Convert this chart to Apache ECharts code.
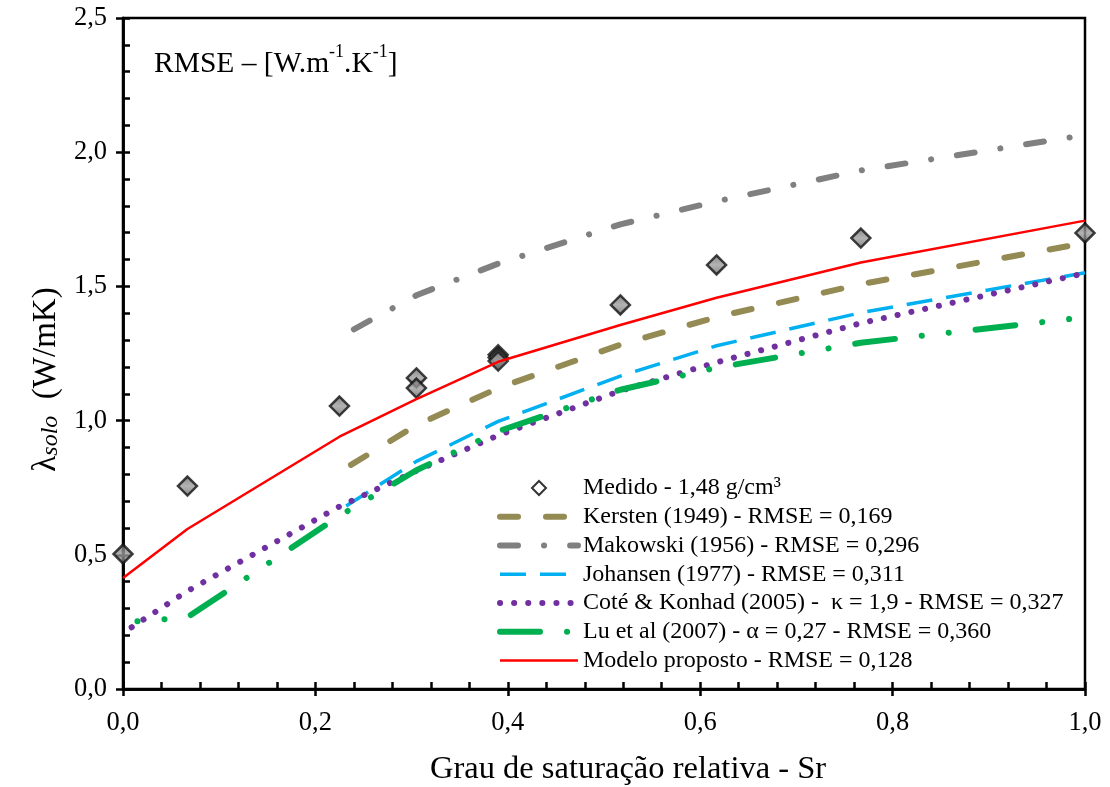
<!DOCTYPE html>
<html>
<head>
<meta charset="utf-8">
<script src="https://cdn.jsdelivr.net/npm/echarts@6/dist/echarts.min.js"></script>
<style>
html,body{margin:0;padding:0;background:#fff;}
#chart{width:1110px;height:787px;}
</style>
</head>
<body>
<div id="chart"></div>
<script>
// ---- data ----
const xTicks = [0, 0.2, 0.4, 0.6, 0.8, 1.0];
const yTicks = [0, 0.5, 1.0, 1.5, 2.0, 2.5];

const medidoX = [0, 0.067, 0.225, 0.305, 0.305, 0.39, 0.39, 0.39, 0.517, 0.617, 0.767, 1.0];
const medidoY = [0.503, 0.756, 1.054, 1.159, 1.121, 1.245, 1.235, 1.222, 1.431, 1.58, 1.68, 1.699];

const kerstenX = [0.237, 0.305, 0.39, 0.517, 0.617, 0.767, 1.0];
const kerstenY = [0.835, 0.983, 1.121, 1.283, 1.386, 1.508, 1.662];

const makowskiX = [0.24, 0.305, 0.39, 0.517, 0.617, 0.767, 1.0];
const makowskiY = [1.34, 1.467, 1.585, 1.731, 1.817, 1.932, 2.064];

const johansenX = [0.232, 0.305, 0.39, 0.517, 0.617, 0.767, 1.0];
const johansenY = [0.682, 0.848, 0.997, 1.166, 1.279, 1.402, 1.551];

const coteX = [0.009, 0.067, 0.225, 0.305, 0.39, 0.517, 0.617, 0.767, 1.0];
const coteY = [0.23, 0.365, 0.68, 0.813, 0.945, 1.111, 1.217, 1.363, 1.549];

const luX = [0.015, 0.067, 0.225, 0.305, 0.39, 0.517, 0.617, 0.767, 1.0];
const luY = [0.252, 0.267, 0.645, 0.815, 0.96, 1.115, 1.197, 1.29, 1.385];

const modeloX = [0, 0.067, 0.225, 0.305, 0.39, 0.517, 0.617, 0.767, 1.0];
const modeloY = [0.414, 0.596, 0.94, 1.08, 1.219, 1.356, 1.458, 1.589, 1.745];

const names = [
  'Medido - 1,48 g/cm³',
  'Kersten (1949) - RMSE = 0,169',
  'Makowski (1956) - RMSE = 0,296',
  'Johansen (1977) - RMSE = 0,311',
  'Coté & Konhad (2005) -  κ = 1,9 - RMSE = 0,327',
  'Lu et al (2007) - α = 0,27 - RMSE = 0,360',
  'Modelo proposto - RMSE = 0,128'
];

// ---- styles ----
const FONT = 'Liberation Serif';
const styles = [
  null,
  {color: '#948A54', width: 6, type: [18, 28], cap: 'round'},
  {color: '#808080', width: 6, type: [18, 26, 0.1, 26], cap: 'round'},
  {color: '#00B0F0', width: 3.5, type: [26, 14], cap: 'butt'},
  {color: '#7030A0', width: 6, type: [0.1, 14], cap: 'round'},
  {color: '#00B050', width: 6, type: [40, 27, 0.1, 27, 0.1, 27], cap: 'round'},
  {color: '#FF0000', width: 2.5, type: 'solid', cap: 'butt'}
];

const pair = (xs, ys) => xs.map((x, i) => [x, ys[i]]);
const fmt = v => v.toFixed(1).replace('.', ',');

const chart = echarts.init(document.getElementById('chart'), null, {renderer: 'canvas'});

const axisLine = {show: true, lineStyle: {color: '#000', width: 2.5}};
const tickStyle = {color: '#000', width: 2.5};
const hidden = {color: 'rgba(0,0,0,0)', borderColor: 'rgba(0,0,0,0)', borderWidth: 0};

function lineSeries(idx, xs, ys, extra) {
  const s = styles[idx];
  return Object.assign({
    name: names[idx], type: 'line', data: pair(xs, ys), symbol: 'none',
    lineStyle: {color: s.color, width: s.width, type: s.type, cap: s.cap},
    itemStyle: {color: s.color}, z: 3
  }, extra || {});
}

const legendData = [
  {name: names[0], icon: 'path://M5,0L10,5L5,10L0,5Z',
   itemStyle: {color: '#ffffff', borderColor: '#000', borderWidth: 2}}
];
for (let i = 1; i < names.length; i++) {
  const s = styles[i];
  legendData.push({name: names[i], itemStyle: hidden,
    lineStyle: {color: s.color, width: s.width, type: s.type, cap: s.cap, dashOffset: 0}});
}

const option = {
  backgroundColor: '#fff',
  animation: false,
  grid: {left: 123, right: 25, top: 18, bottom: 98, containLabel: false, outerBoundsMode: 'none',
         show: true, borderColor: '#000', borderWidth: 2.5, backgroundColor: 'transparent'},
  xAxis: [
    {
      type: 'value', min: xTicks[0], max: xTicks[xTicks.length - 1], interval: 0.2, position: 'bottom',
      axisLine: axisLine,
      axisTick: {show: true, inside: false, length: 7, lineStyle: tickStyle},
      axisLabel: {formatter: fmt, fontFamily: FONT, fontSize: 26.5, color: '#000', margin: 21},
      splitLine: {show: false},
      name: 'Grau de saturação relativa - Sr', nameLocation: 'middle', nameGap: 64,
      nameTextStyle: {fontFamily: FONT, fontSize: 32.5, color: '#000', padding: [0, 0, 0, 48]}
    },
    {
      type: 'value', min: xTicks[0], max: xTicks[xTicks.length - 1], interval: 0.2, position: 'bottom',
      axisLine: axisLine,
      axisTick: {show: true, inside: true, length: 7, lineStyle: tickStyle},
      minorTick: {show: true, splitNumber: 5, length: 7, lineStyle: tickStyle},
      axisLabel: {show: false}, splitLine: {show: false}
    }
  ],
  yAxis: [
    {
      type: 'value', min: yTicks[0], max: yTicks[yTicks.length - 1], interval: 0.5, position: 'left',
      axisLine: axisLine,
      axisTick: {show: true, inside: false, length: 7, lineStyle: tickStyle},
      axisLabel: {formatter: fmt, fontFamily: FONT, fontSize: 26.5, color: '#000', margin: 16},
      splitLine: {show: false},
      name: '{l|λ}{s|solo}{u|  (W/mK)}', nameLocation: 'middle', nameRotate: 90, nameGap: 58,
      nameTextStyle: {
        color: '#000', padding: [0, 52, 0, 0],
        rich: {
          l: {fontFamily: FONT, fontSize: 33, color: '#000', verticalAlign: 'bottom', lineHeight: 38},
          s: {fontFamily: FONT, fontSize: 24, fontStyle: 'italic', color: '#000', verticalAlign: 'bottom', lineHeight: 34},
          u: {fontFamily: FONT, fontSize: 33, color: '#000', verticalAlign: 'bottom', lineHeight: 38}
        }
      }
    },
    {
      type: 'value', min: yTicks[0], max: yTicks[yTicks.length - 1], interval: 0.5, position: 'left',
      axisLine: axisLine,
      axisTick: {show: true, inside: true, length: 7, lineStyle: tickStyle},
      minorTick: {show: true, splitNumber: 5, length: 7, lineStyle: tickStyle},
      axisLabel: {show: false}, splitLine: {show: false}
    }
  ],
  legend: {
    orient: 'vertical', left: 492, top: 471,
    itemWidth: 78, itemHeight: 14, itemGap: 4.75, symbolKeepAspect: true,
    textStyle: {fontFamily: FONT, fontSize: 24, color: '#000', lineHeight: 24},
    data: legendData
  },
  graphic: [{
    type: 'text', left: 154, top: 43,
    style: {
      text: '{a|RMSE – [W.m}{b|-1}{a|.K}{b|-1}{a|]}',
      rich: {
        a: {fontFamily: FONT, fontSize: 29.5, color: '#000', lineHeight: 36, verticalAlign: 'bottom'},
        b: {fontFamily: FONT, fontSize: 18, color: '#000', lineHeight: 21, verticalAlign: 'top'}
      }
    }
  }],
  series: [
    {
      name: names[0], type: 'scatter', data: pair(medidoX, medidoY),
      symbol: 'diamond', symbolSize: 19,
      itemStyle: {
        color: new echarts.graphic.LinearGradient(0, 0, 0, 1, [
          {offset: 0, color: '#666666'}, {offset: 0.5, color: '#a0a0a0'}, {offset: 1, color: '#666666'}
        ]),
        borderColor: '#111', borderWidth: 2.5
      },
      z: 2
    },
    lineSeries(1, kerstenX, kerstenY),
    lineSeries(2, makowskiX, makowskiY),
    lineSeries(3, johansenX, johansenY),
    lineSeries(4, coteX, coteY),
    lineSeries(5, luX, luY, {lineStyle: {color: styles[5].color, width: 6, type: styles[5].type, cap: 'round', dashOffset: 67}}),
    lineSeries(6, modeloX, modeloY)
  ]
};
chart.setOption(option);
</script>
</body>
</html>
